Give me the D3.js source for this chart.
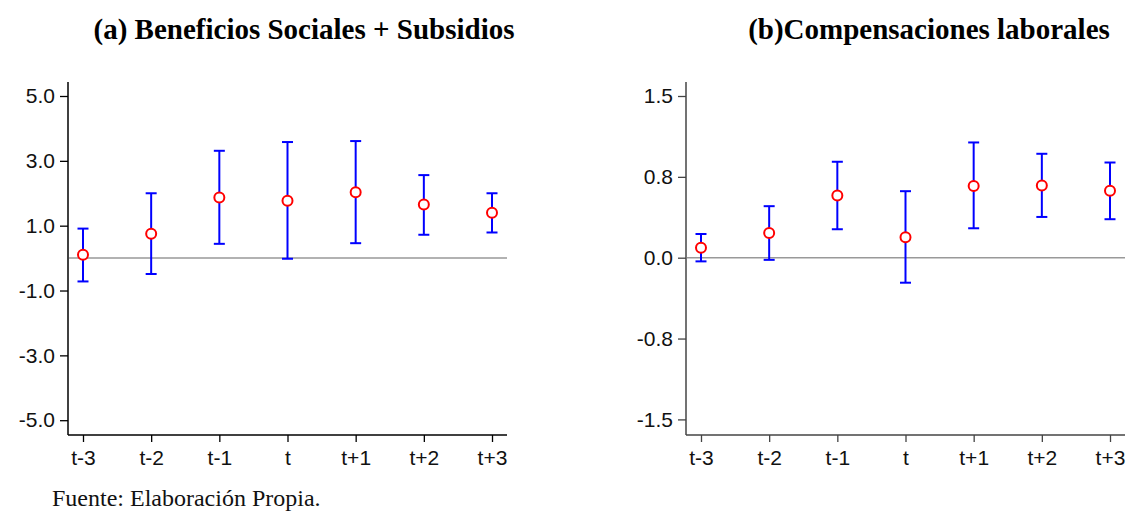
<!DOCTYPE html>
<html>
<head>
<meta charset="utf-8">
<script src="https://cdn.jsdelivr.net/npm/d3@7"></script>
<style>
  body { margin: 0; background: #fff; }
  svg { display: block; }
</style>
</head>
<body>
<svg id="chart"></svg>
<script>
let periods = ['t-3', 't-2', 't-1', 't', 't+1', 't+2', 't+3']

// panel (a) Beneficios Sociales + Subsidios
let coefA = [0.10, 0.75, 1.87, 1.77, 2.03, 1.65, 1.40]
let lowA = [-0.72, -0.49, 0.44, -0.02, 0.46, 0.72, 0.79]
let highA = [0.91, 2.00, 3.31, 3.58, 3.61, 2.56, 2.00]
let ticksA = [-5, -3, -1, 1, 3, 5]
let tickLabelsA = ['-5.0', '-3.0', '-1.0', '1.0', '3.0', '5.0']

// panel (b) Compensaciones laborales
let coefB = [0.093, 0.23, 0.576, 0.19, 0.666, 0.67, 0.62]
let lowB = [-0.034, -0.02, 0.264, -0.232, 0.273, 0.378, 0.357]
let highB = [0.22, 0.478, 0.89, 0.617, 1.069, 0.964, 0.883]
let ticksB = [-1.5, -0.75, 0, 0.75, 1.5]
let tickLabelsB = ['-1.5', '-0.8', '0.0', '0.8', '1.5']

let svgWidth = 1128
let svgHeight = 511

let svg = d3.select('#chart')
    .attr('width', svgWidth)
    .attr('height', svgHeight)

function drawPanel(opt) {
    let g = svg.append('g')

    let x = d3.scalePoint()
        .domain(periods)
        .range([opt.left, opt.right])
        .padding(0.22)

    let y = d3.scaleLinear()
        .domain(opt.domain)
        .range([opt.bottomTick, 96])

    let rows = periods.map((p, i) => ({ p: p, c: opt.coef[i], lo: opt.low[i], hi: opt.high[i] }))

    // title
    g.append('text')
        .attr('x', opt.titleX)
        .attr('y', 39)
        .attr('text-anchor', 'middle')
        .style('font-family', '"Liberation Serif", "Times New Roman", serif')
        .style('font-weight', 'bold')
        .style('font-size', '29px')
        .text(opt.title)

    // y axis
    let yAxis = d3.axisLeft(y)
        .tickValues(opt.ticks)
        .tickFormat((d, i) => opt.tickLabels[i])
        .tickSize(8)
        .tickPadding(5)

    let ya = g.append('g')
        .attr('transform', 'translate(' + opt.left + ',0)')
        .call(yAxis)
    ya.select('.domain').remove()
    ya.selectAll('line').attr('stroke', opt.axisColor).attr('stroke-width', 1.3)
    ya.selectAll('text')
        .style('font-family', '"Liberation Sans", Arial, sans-serif')
        .style('font-size', '21px')
        .attr('fill', '#111')

    g.append('line')
        .attr('x1', opt.left).attr('x2', opt.left)
        .attr('y1', 82).attr('y2', 435)
        .attr('stroke', opt.axisColor)
        .attr('stroke-width', 1.5)

    // x axis
    let xAxis = d3.axisBottom(x)
        .tickSize(7)
        .tickPadding(8)

    let xa = g.append('g')
        .attr('transform', 'translate(0,435)')
        .call(xAxis)
    xa.select('.domain').remove()
    xa.selectAll('line').attr('stroke', opt.axisColor).attr('stroke-width', 1.3)
    xa.selectAll('text')
        .style('font-family', '"Liberation Sans", Arial, sans-serif')
        .style('font-size', '21px')
        .attr('fill', '#111')

    g.append('line')
        .attr('x1', opt.left).attr('x2', opt.right)
        .attr('y1', 435).attr('y2', 435)
        .attr('stroke', opt.axisColor)
        .attr('stroke-width', 1.5)

    // zero line
    g.append('line')
        .attr('x1', opt.left + 1).attr('x2', opt.right)
        .attr('y1', y(0)).attr('y2', y(0))
        .attr('stroke', '#999')
        .attr('stroke-width', 1.5)

    // error bars
    let bars = g.selectAll('.bar')
        .data(rows)
        .enter()
        .append('g')
        .attr('class', 'bar')

    bars.append('line')
        .attr('x1', d => x(d.p)).attr('x2', d => x(d.p))
        .attr('y1', d => y(d.lo)).attr('y2', d => y(d.hi))
        .attr('stroke', '#0000ff')
        .attr('stroke-width', 2)

    bars.append('line')
        .attr('x1', d => x(d.p) - 5.5).attr('x2', d => x(d.p) + 5.5)
        .attr('y1', d => y(d.hi)).attr('y2', d => y(d.hi))
        .attr('stroke', '#0000ff')
        .attr('stroke-width', 2)

    bars.append('line')
        .attr('x1', d => x(d.p) - 5.5).attr('x2', d => x(d.p) + 5.5)
        .attr('y1', d => y(d.lo)).attr('y2', d => y(d.lo))
        .attr('stroke', '#0000ff')
        .attr('stroke-width', 2)

    bars.append('circle')
        .attr('cx', d => x(d.p))
        .attr('cy', d => y(d.c))
        .attr('r', 5)
        .attr('fill', 'white')
        .attr('stroke', '#ff0000')
        .attr('stroke-width', 2)
}

drawPanel({
    title: '(a) Beneficios Sociales + Subsidios',
    titleX: 304,
    left: 68,
    right: 507,
    domain: [-5, 5],
    bottomTick: 420.2,
    ticks: ticksA,
    tickLabels: tickLabelsA,
    coef: coefA, low: lowA, high: highA,
    axisColor: '#000'
})

drawPanel({
    title: '(b)Compensaciones laborales',
    titleX: 929,
    left: 686,
    right: 1125,
    domain: [-1.5, 1.5],
    bottomTick: 419.4,
    ticks: ticksB,
    tickLabels: tickLabelsB,
    coef: coefB, low: lowB, high: highB,
    axisColor: '#444'
})

svg.append('text')
    .attr('x', 52)
    .attr('y', 506)
    .style('font-family', '"Liberation Serif", "Times New Roman", serif')
    .style('font-size', '24px')
    .attr('fill', '#111')
    .text('Fuente: Elaboración Propia.')
</script>
</body>
</html>
